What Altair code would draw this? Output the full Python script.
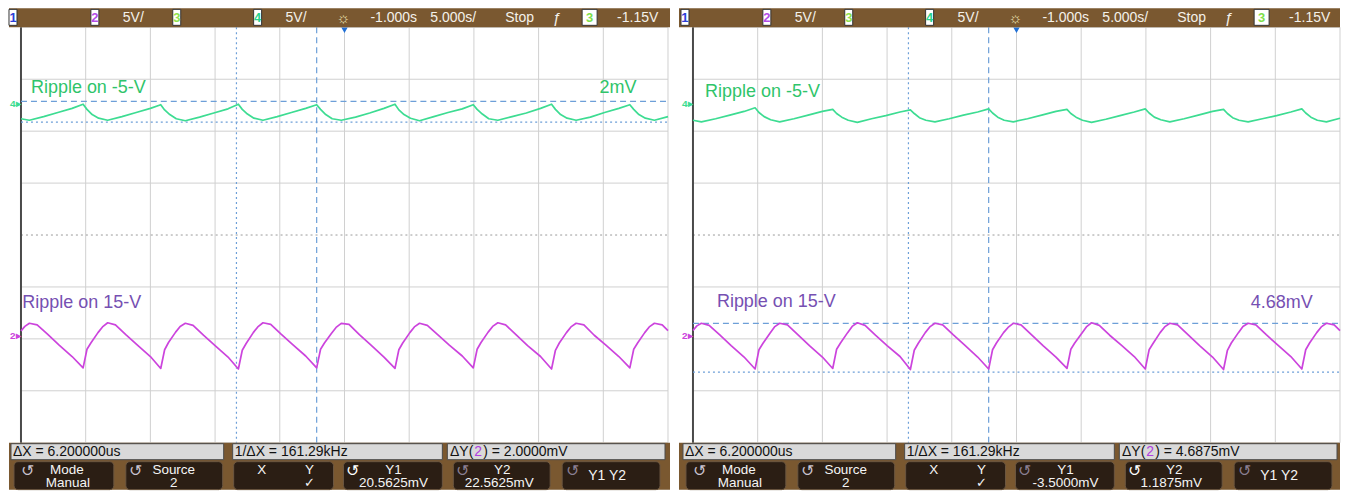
import altair as alt
import pandas as pd

# ===================== DATA =====================
# time in microseconds (5 us/div, trigger at screen centre); voltage in mV on the
# channel-2 scale (5 mV/div) so that both traces and the cursors share one axis
t_mag = [
    -25.0, -24.7, -24.35, -23.75, -22.95, -22.05, -21.05,
    -20.2, -19.9, -19.6, -19.05, -18.7, -18.3, -17.7, -16.9, -16.0, -15.0,
    -14.2, -13.9, -13.6, -13.05, -12.7, -12.3, -11.7, -10.9, -10.0, -9.0,
    -8.2, -7.9, -7.6, -7.05, -6.7, -6.3, -5.7, -4.9, -4.0, -3.0,
    -2.15, -1.85, -1.55, -1.0, -0.65, -0.25, 0.35, 1.15, 2.05, 3.05,
    3.9, 4.2, 4.5, 5.05, 5.4, 5.8, 6.4, 7.2, 8.1, 9.1,
    9.95, 10.25, 10.55, 11.1, 11.45, 11.85, 12.45, 13.25, 14.15, 15.15,
    16.0, 16.3, 16.6, 17.15, 17.5, 17.9, 18.5, 19.3, 20.2, 21.2,
    22.05, 22.35, 22.65, 23.2, 23.55, 23.95, 24.55, 25.0,
]
v_mag_left = [
    0.45, 0.9, 1.2, 1.05, 0.15, -0.9, -2.0,
    -3.1, -1.3, -0.7, 0.3, 0.85, 1.25, 1.05, 0.1, -0.9, -2.0,
    -3.15, -1.35, -0.65, 0.35, 0.9, 1.2, 1.0, 0.05, -0.95, -2.05,
    -3.2, -1.4, -0.75, 0.3, 0.85, 1.25, 1.1, 0.15, -0.85, -1.95,
    -3.1, -1.3, -0.7, 0.25, 0.8, 1.2, 1.1, 0.1, -0.9, -2.05,
    -3.15, -1.35, -0.7, 0.3, 0.85, 1.2, 1.0, 0.1, -0.9, -1.95,
    -3.1, -1.3, -0.65, 0.35, 0.9, 1.25, 1.05, 0.1, -0.95, -2.0,
    -3.2, -1.4, -0.7, 0.3, 0.85, 1.2, 1.05, 0.05, -0.9, -2.0,
    -3.1, -1.3, -0.7, 0.3, 0.85, 1.2, 1.05, 0.5,
]
v_mag_right = [
    0.5, 0.95, 1.2, 1.0, 0.1, -0.95, -2.05,
    -3.2, -1.35, -0.75, 0.25, 0.85, 1.2, 1.05, 0.1, -0.95, -2.05,
    -3.15, -1.3, -0.7, 0.3, 0.9, 1.25, 1.0, 0.05, -0.95, -2.0,
    -3.25, -1.4, -0.75, 0.3, 0.85, 1.2, 1.05, 0.1, -0.9, -2.05,
    -3.2, -1.35, -0.7, 0.3, 0.8, 1.2, 1.05, 0.1, -0.95, -2.05,
    -3.15, -1.3, -0.7, 0.25, 0.85, 1.25, 1.0, 0.05, -0.9, -2.0,
    -3.2, -1.35, -0.75, 0.3, 0.85, 1.2, 1.05, 0.1, -0.95, -2.05,
    -3.25, -1.4, -0.7, 0.3, 0.9, 1.2, 1.05, 0.1, -0.9, -2.0,
    -3.2, -1.35, -0.7, 0.3, 0.85, 1.2, 1.05, 0.5,
]
t_grn = [
    -25.0, -24.35, -23.25, -22.15, -21.05,
    -20.2, -19.9, -19.5, -19.0, -18.3, -17.2, -16.1, -15.0,
    -14.2, -13.9, -13.5, -13.0, -12.3, -11.2, -10.1, -9.0,
    -8.2, -7.9, -7.5, -7.0, -6.3, -5.2, -4.1, -3.0,
    -2.15, -1.85, -1.45, -0.95, -0.25, 0.85, 1.95, 3.05,
    3.9, 4.2, 4.6, 5.1, 5.8, 6.9, 8.0, 9.1,
    9.95, 10.25, 10.65, 11.15, 11.85, 12.95, 14.05, 15.15,
    16.0, 16.3, 16.7, 17.2, 17.9, 19.0, 20.1, 21.2,
    22.05, 22.35, 22.75, 23.25, 23.95, 25.0,
]
v_grn_left = [
    20.9, 20.75, 21.1, 21.5, 21.9,
    22.3, 21.8, 21.3, 20.95, 20.75, 21.1, 21.5, 21.9,
    22.25, 21.75, 21.3, 20.9, 20.7, 21.05, 21.45, 21.85,
    22.3, 21.8, 21.35, 20.95, 20.75, 21.1, 21.5, 21.9,
    22.25, 21.8, 21.3, 20.9, 20.75, 21.05, 21.45, 21.9,
    22.3, 21.75, 21.3, 20.95, 20.7, 21.1, 21.5, 21.85,
    22.25, 21.8, 21.35, 20.9, 20.75, 21.1, 21.45, 21.9,
    22.3, 21.8, 21.3, 20.95, 20.75, 21.05, 21.5, 21.9,
    22.25, 21.8, 21.3, 20.95, 20.75, 21.1,
]
v_grn_right = [
    20.75, 20.6, 20.9, 21.25, 21.6,
    21.95, 21.5, 21.1, 20.8, 20.6, 20.9, 21.25, 21.6,
    21.8, 21.4, 21.05, 20.75, 20.55, 20.9, 21.2, 21.55,
    21.75, 21.4, 21.0, 20.75, 20.6, 20.9, 21.25, 21.55,
    21.85, 21.45, 21.05, 20.75, 20.6, 20.9, 21.25, 21.6,
    21.8, 21.4, 21.05, 20.75, 20.55, 20.85, 21.2, 21.55,
    21.85, 21.45, 21.05, 20.8, 20.6, 20.9, 21.25, 21.6,
    21.8, 21.4, 21.0, 20.75, 20.6, 20.9, 21.2, 21.55,
    21.85, 21.45, 21.05, 20.75, 20.6, 20.95,
]

cursor_x = [-8.35, -2.15]            # X1 (dotted), X2 (dashed): dX = 6.2 us
cursor_y_left = [20.5625, 22.5625]   # Y1 (dotted), Y2 (dashed)
cursor_y_right = [-3.5, 1.1875]
ch4_marker_mv = 22.35
ch2_marker_mv = 0.0

time_div = [-25, -20, -15, -10, -5, 0, 5, 10, 15, 20, 25]
mv_div = [-10.3, -5.3, -0.3, 4.7, 9.7, 14.7, 19.7, 24.7, 29.7]

label_m5 = "Ripple on -5-V"
label_15 = "Ripple on 15-V"
note_left = "2mV"
note_right = "4.68mV"

status_digits = ["1", "2", "3", "4"]
status_words = ["5V/", "5V/", "-1.000s", "5.000s/", "Stop", "-1.15V"]
trig_source = "3"

readout_dx = "ΔX = 6.200000us"
readout_inv = "1/ΔX = 161.29kHz"
readout_dy_left = ") = 2.0000mV"
readout_dy_right = ") = 4.6875mV"

key_line1 = ["Mode", "Source", "Y1", "Y2"]
key_line2_left = ["Manual", "2", "20.5625mV", "22.5625mV"]
key_line2_right = ["Manual", "2", "-3.5000mV", "1.1875mV"]

# ===================== LAYOUT / STYLE =====================
FONT = "Liberation Sans"
PLOT_W, PLOT_H = 648, 416
TOP_H = 19
VIEW_H = 482
PANEL_W = 662
GAP = 9
PX_US = PLOT_W / 50.0
PX_MV = PLOT_H / 40.0

BROWN = "#7a5830"
KEY_FILL = "#2b1e14"
GREEN_TR = "#3ddc92"
GREEN_TX = "#2fc46a"
MAG_TR = "#cc44dd"
PURP_TX = "#7650b2"
CURSOR = "#6d9fd8"
GRID = "#d0d0d0"

digit_colors = ["#2a3fd8", "#b24be6", "#8ee24c", "#26d38c"]
digit_rel = [-12, 70, 152, 233]
word_rel = [102, 265, 350, 410, 485, 597]
bar_rel = [(-10, 203), (212, 422), (427, 645)]
key_rel = [(-7, 93), (105, 202), (213, 313), (323, 422), (433, 530), (542, 640)]
icon_rel = [7, 115, 332, 442, 552]
line1_rel = [46, 153, 373, 482]
line2_rel = [47, 153, 373, 479]


def panel(off, v_mag, v_grn, ycur, note, note_col, note_pos, m5_pos, p15_pos,
          dy_rest, line2, icon_cols):
    L, R = off, off + PLOT_W
    T, B = TOP_H, TOP_H + PLOT_H
    xs = alt.Scale(domain=[-25 - off / PX_US, -25 + (PANEL_W - off) / PX_US],
                   nice=False, zero=False)
    ys = alt.Scale(domain=[mv_div[-1] - (VIEW_H - TOP_H) / PX_MV,
                           mv_div[-1] + TOP_H / PX_MV], nice=False, zero=False)

    def X(f):
        return alt.X(f, scale=xs, axis=None)

    def Y(f):
        return alt.Y(f, scale=ys, axis=None)

    def PX(f):
        return alt.X(f, scale=None, axis=None)

    def PY(f):
        return alt.Y(f, scale=None, axis=None)

    one = pd.DataFrame({"k": [0]})
    lay = []

    def rects(df, **mk):
        return alt.Chart(df).mark_rect(**mk).encode(
            x=PX("x0:Q"), x2="x1", y=PY("y0:Q"), y2="y1")

    def texts(df, **mk):
        return alt.Chart(df).mark_text(font=FONT, **mk).encode(
            x=PX("x:Q"), y=PY("y:Q"), text="s:N",
            color=alt.Color("c:N", scale=None))

    # ---- graticule
    lay.append(alt.Chart(pd.DataFrame({"t": time_div})).mark_rule(
        color=GRID, strokeWidth=1).encode(x=X("t:Q"), y=alt.value(T), y2=alt.value(B)))
    lay.append(alt.Chart(pd.DataFrame({"v": [m for i, m in enumerate(mv_div) if i != 4]}))
               .mark_rule(color=GRID, strokeWidth=1)
               .encode(y=Y("v:Q"), x=alt.value(L), x2=alt.value(R)))
    lay.append(alt.Chart(pd.DataFrame({"v": [mv_div[4]]})).mark_rule(
        color="#9a9a9a", strokeWidth=1, strokeDash=[2, 3]).encode(
        y=Y("v:Q"), x=alt.value(L), x2=alt.value(R)))
    lay.append(alt.Chart(pd.DataFrame({"t": [time_div[0]]})).mark_rule(
        color="#4a4a4a", strokeWidth=2).encode(x=X("t:Q"), y=alt.value(T), y2=alt.value(B)))

    # ---- cursors
    for val, dash in zip(cursor_x, [[2, 3], [6, 4]]):
        lay.append(alt.Chart(pd.DataFrame({"t": [val]})).mark_rule(
            color=CURSOR, strokeWidth=1.2, strokeDash=dash).encode(
            x=X("t:Q"), y=alt.value(T), y2=alt.value(B)))
    for val, dash in zip(ycur, [[2, 3], [6, 4]]):
        lay.append(alt.Chart(pd.DataFrame({"v": [val]})).mark_rule(
            color=CURSOR, strokeWidth=1.2, strokeDash=dash).encode(
            y=Y("v:Q"), x=alt.value(L), x2=alt.value(R)))

    # ---- traces
    lay.append(alt.Chart(pd.DataFrame({"t": t_grn, "v": v_grn})).mark_line(
        color=GREEN_TR, strokeWidth=1.7, strokeJoin="round").encode(x=X("t:Q"), y=Y("v:Q")))
    lay.append(alt.Chart(pd.DataFrame({"t": t_mag, "v": v_mag})).mark_line(
        color=MAG_TR, strokeWidth=1.7, strokeJoin="round").encode(x=X("t:Q"), y=Y("v:Q")))

    # ---- annotations
    ann = pd.DataFrame({
        "t": [m5_pos[0], p15_pos[0], note_pos[0]],
        "v": [m5_pos[1], p15_pos[1], note_pos[1]],
        "s": [label_m5, label_15, note],
        "c": [GREEN_TX, PURP_TX, note_col],
    })
    lay.append(alt.Chart(ann).mark_text(font=FONT, fontSize=18, align="left",
                                        baseline="alphabetic").encode(
        x=X("t:Q"), y=Y("v:Q"), text="s:N", color=alt.Color("c:N", scale=None)))

    # ---- channel ground markers
    gm = pd.DataFrame({"v": [ch4_marker_mv, ch2_marker_mv], "s": ["4▸", "2▸"],
                       "c": [GREEN_TR, MAG_TR]})
    lay.append(alt.Chart(gm).mark_text(font=FONT, fontSize=10, fontWeight="bold",
                                       align="left", baseline="middle").encode(
        x=alt.value(L - 11), y=Y("v:Q"), text="s:N", color=alt.Color("c:N", scale=None)))

    # ---- trigger marker
    lay.append(alt.Chart(pd.DataFrame({"t": [0]})).mark_point(
        shape="triangle-down", filled=True, size=40, color="#1f6fd6", opacity=1).encode(
        x=X("t:Q"), y=alt.value(T + 3)))

    # ---- status bar
    lay.append(alt.Chart(one).mark_rect(color=BROWN).encode(
        x=alt.value(0), x2=alt.value(PANEL_W), y=alt.value(0), y2=alt.value(T)))
    lay.append(rects(pd.DataFrame({
        "x0": [L + r for r in digit_rel] + [L + 562],
        "x1": [L + r + 8 for r in digit_rel] + [L + 577],
        "y0": [1] * 5, "y1": [17] * 5}), fill="white", stroke="#333333", strokeWidth=1))
    lay.append(texts(pd.DataFrame({
        "x": [L + r + 4 for r in digit_rel] + [L + 569.5],
        "y": [9.5] * 5, "s": status_digits + [trig_source],
        "c": digit_colors + ["#7ee04a"]}),
        fontSize=13, fontWeight="bold", align="center", baseline="middle"))
    lay.append(texts(pd.DataFrame({
        "x": [L + r for r in word_rel], "y": [10] * 6, "s": status_words,
        "c": ["#f4f1ea"] * 6}), fontSize=14, align="left", baseline="middle"))
    lay.append(texts(pd.DataFrame({
        "x": [L + 323, L + 537], "y": [9.5, 10], "s": ["☼", "ƒ"],
        "c": ["#efe6b8", "#f4f1ea"]}), fontSize=15, align="center", baseline="middle"))

    # ---- lower menu area
    lay.append(alt.Chart(one).mark_rect(color=BROWN).encode(
        x=alt.value(0), x2=alt.value(PANEL_W), y=alt.value(B), y2=alt.value(VIEW_H)))
    lay.append(rects(pd.DataFrame({
        "x0": [L + a for a, b in bar_rel], "x1": [L + b for a, b in bar_rel],
        "y0": [B + 1] * 3, "y1": [B + 17] * 3}), fill="#d9d9d9", stroke="#4a4a4a", strokeWidth=1))
    lay.append(texts(pd.DataFrame({
        "x": [L - 8, L + 214, L + 463], "y": [B + 9.5] * 3,
        "s": [readout_dx, readout_inv, dy_rest], "c": ["#111111"] * 3}),
        fontSize=14, align="left", baseline="middle"))
    lay.append(texts(pd.DataFrame({"x": [L + 453], "y": [B + 9.5], "s": ["ΔY("],
                                   "c": ["#111111"]}),
                     fontSize=14, align="right", baseline="middle"))
    lay.append(texts(pd.DataFrame({"x": [L + 454], "y": [B + 9.5], "s": ["2"],
                                   "c": ["#b040e0"]}),
                     fontSize=14, align="left", baseline="middle"))

    # softkeys
    lay.append(rects(pd.DataFrame({
        "x0": [L + a for a, b in key_rel], "x1": [L + b for a, b in key_rel],
        "y0": [B + 19] * 6, "y1": [VIEW_H] * 6}),
        fill=KEY_FILL, stroke="#6b5640", strokeWidth=1, cornerRadius=4))
    lay.append(texts(pd.DataFrame({
        "x": [L + r for r in icon_rel], "y": [B + 28] * 5, "s": ["↺"] * 5,
        "c": icon_cols}), fontSize=16, align="center", baseline="middle"))
    lay.append(texts(pd.DataFrame({
        "x": [L + r for r in line1_rel] + [L + 241, L + 289],
        "y": [B + 27] * 6, "s": key_line1 + ["X", "Y"], "c": ["#f5f5f5"] * 6}),
        fontSize=13.5, align="center", baseline="middle"))
    lay.append(texts(pd.DataFrame({
        "x": [L + r for r in line2_rel] + [L + 289],
        "y": [B + 40] * 5, "s": line2 + ["✓"], "c": ["#f5f5f5"] * 5}),
        fontSize=13.5, align="center", baseline="middle"))
    lay.append(texts(pd.DataFrame({"x": [L + 587], "y": [B + 33], "s": ["Y1 Y2"],
                                   "c": ["#f5f5f5"]}),
                     fontSize=14, align="center", baseline="middle"))

    return alt.layer(*lay).properties(width=PANEL_W, height=VIEW_H)


DIM = "#8a7f92"
LIGHT = "#c9c2cf"
BRIGHT = "#ffffff"

left = panel(12, v_mag_left, v_grn_left, cursor_y_left, note_left, GREEN_TX,
             (19.7, 23.35), (-24.23, 23.35), (-24.9, 2.68),
             readout_dy_left, key_line2_left, [LIGHT, LIGHT, BRIGHT, DIM, DIM])
right = panel(14, v_mag_right, v_grn_right, cursor_y_right, note_right, PURP_TX,
              (18.1, 2.68), (-24.07, 22.97), (-23.15, 2.78),
              readout_dy_right, key_line2_right, [LIGHT, LIGHT, DIM, BRIGHT, DIM])

chart = (alt.hconcat(left, right, spacing=GAP)
         .properties(padding=0, background="#ffffff")
         .configure_view(stroke=None))

chart.save("out.html", embed_options={"renderer": "svg", "actions": False})
